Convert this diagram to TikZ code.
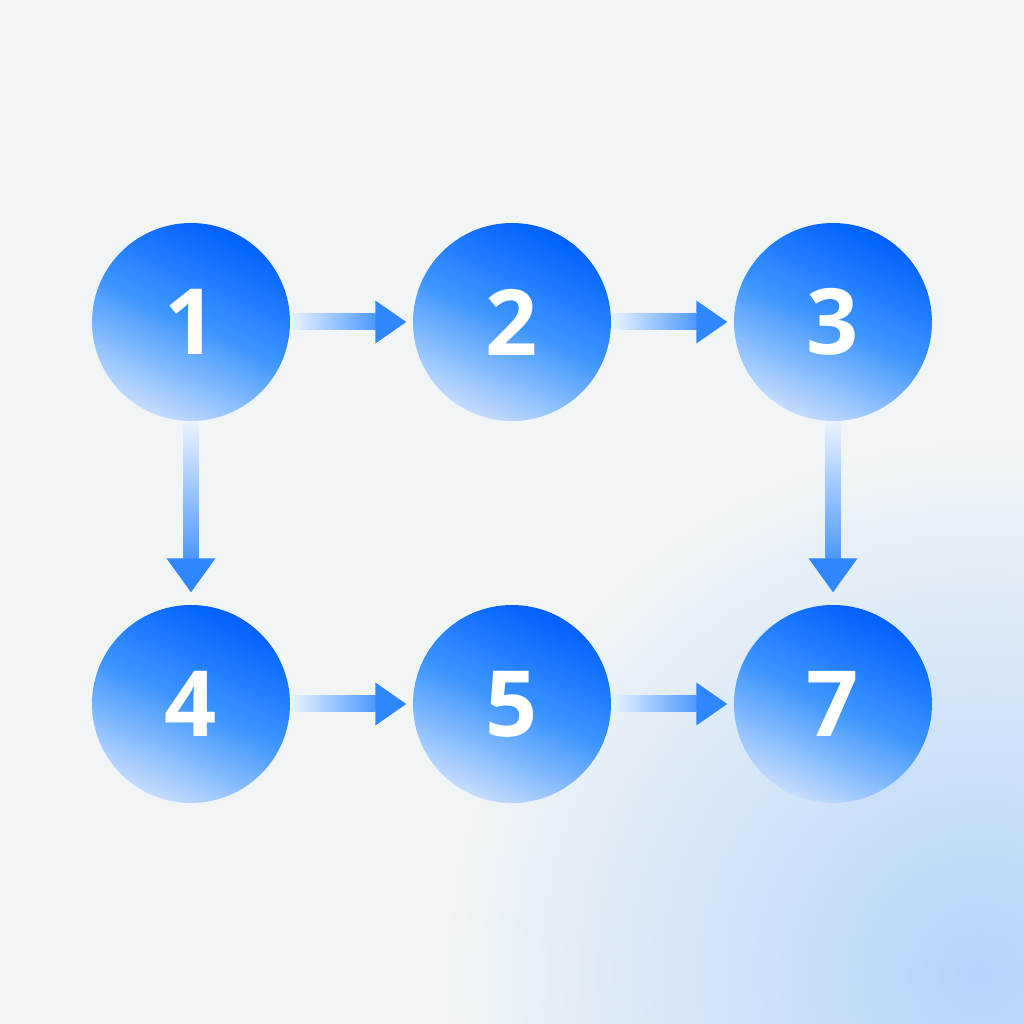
\documentclass[tikz,border=0pt]{standalone}
\usepackage{fontspec}
\setsansfont{Open Sans}
\usetikzlibrary{positioning}

\definecolor{bgpaper}{HTML}{F2F5F6}
\definecolor{glow}{HTML}{B3D4FB}
\definecolor{deepblue}{HTML}{0060FF}
\definecolor{midblue}{HTML}{3D95FF}
\definecolor{paleblue}{HTML}{C4DCFF}
\definecolor{shaftpale}{HTML}{EAF3FF}
\definecolor{shaftblue}{HTML}{4E98FF}
\definecolor{headblue}{HTML}{2F87FF}

\begin{document}
\begin{tikzpicture}[
        stage/.style={circle, inner sep=0pt, minimum size=1.98cm, top color=deepblue, bottom color=paleblue, middle color=midblue, shading angle=-25, text=white, font=\sffamily\bfseries\fontsize{26}{31}\selectfont},
        hshaft/.style={left color=shaftpale, right color=shaftblue},
        vshaft/.style={top color=shaftpale, bottom color=shaftblue},
        head/.style={fill=headblue}
      ]
        \useasboundingbox (0,0) rectangle (10.24,10.24);
        \fill[bgpaper] (0,0) rectangle (10.24,10.24);
        \begin{scope}
          \clip (0,0) rectangle (10.24,10.24);
          \shade[inner color=glow, outer color=bgpaper] (9.8,0.5) circle (5.4);
        \end{scope}

        \node[stage]  (n1)  at (1.91,7.02)                        {1};
        \node[stage]  (n2)  [right of=n1, node distance=3.21cm]  {2};
        \node[stage]  (n3)  [right of=n2, node distance=3.21cm]  {3};
        \node[stage]  (n4)  [below of=n1, node distance=3.82cm]  {4};
        \node[stage]  (n5)  [right of=n4, node distance=3.21cm]  {5};
        \node[stage]  (n7)  [right of=n5, node distance=3.21cm]  {7};

        % horizontal arrows
        \foreach \a/\b in {n1/n2, n2/n3, n4/n5, n5/n7} {
          \shade[hshaft] ([yshift=-0.08cm]\a.east) rectangle ([xshift=-0.37cm, yshift=0.08cm]\b.west);
          \fill[head] ([xshift=-0.37cm, yshift=0.215cm]\b.west) -- ([xshift=-0.06cm]\b.west) -- ([xshift=-0.37cm, yshift=-0.215cm]\b.west) -- cycle;
        }
        % vertical arrows
        \foreach \a/\b in {n1/n4, n3/n7} {
          \shade[vshaft] ([xshift=-0.075cm]\a.south) rectangle ([xshift=0.075cm, yshift=0.46cm]\b.north);
          \fill[head] ([xshift=-0.245cm, yshift=0.46cm]\b.north) -- ([yshift=0.12cm]\b.north) -- ([xshift=0.245cm, yshift=0.46cm]\b.north) -- cycle;
        }
      \end{tikzpicture}
\end{document}
